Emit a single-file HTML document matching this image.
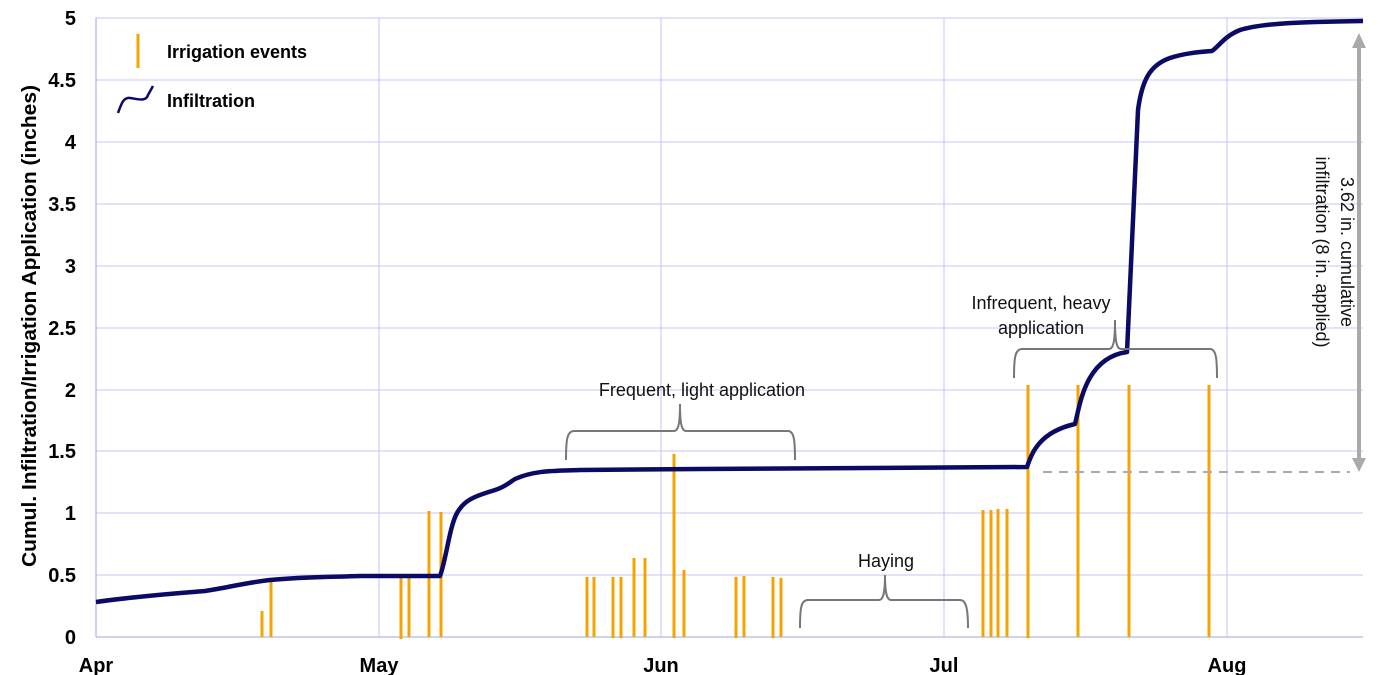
<!DOCTYPE html>
<html><head><meta charset="utf-8"><style>body{margin:0;background:#fff}svg{display:block}</style></head>
<body>
<svg width="1390" height="675" viewBox="0 0 1390 675" xmlns="http://www.w3.org/2000/svg" font-family="Liberation Sans, sans-serif">
<g stroke="#c4c4f4" stroke-width="1">
<line x1="96" y1="18" x2="1363" y2="18"/><line x1="96" y1="80" x2="1363" y2="80"/><line x1="96" y1="142" x2="1363" y2="142"/><line x1="96" y1="204" x2="1363" y2="204"/><line x1="96" y1="266" x2="1363" y2="266"/><line x1="96" y1="328" x2="1363" y2="328"/><line x1="96" y1="390" x2="1363" y2="390"/><line x1="96" y1="451" x2="1363" y2="451"/><line x1="96" y1="513" x2="1363" y2="513"/><line x1="96" y1="575" x2="1363" y2="575"/>
<line x1="379" y1="18" x2="379" y2="637"/><line x1="661" y1="18" x2="661" y2="637"/><line x1="944" y1="18" x2="944" y2="637"/><line x1="1227" y1="18" x2="1227" y2="637"/>
</g>
<line x1="96" y1="18" x2="96" y2="637" stroke="#a0a0ee"/><line x1="96" y1="637" x2="1363" y2="637" stroke="#a0a0ee"/>
<g font-weight="bold" font-size="20" text-anchor="end" fill="#000">
<text x="76" y="25">5</text><text x="76" y="87">4.5</text><text x="76" y="149">4</text><text x="76" y="211">3.5</text><text x="76" y="273">3</text><text x="76" y="335">2.5</text><text x="76" y="397">2</text><text x="76" y="458">1.5</text><text x="76" y="520">1</text><text x="76" y="582">0.5</text><text x="76" y="644">0</text>
</g>
<g font-weight="bold" font-size="20" text-anchor="middle">
<text x="96" y="672">Apr</text><text x="379" y="672">May</text><text x="661" y="672">Jun</text><text x="944" y="672">Jul</text><text x="1227" y="672">Aug</text>
</g>
<text transform="translate(36,326) rotate(-90)" text-anchor="middle" font-weight="bold" font-size="20" textLength="482" lengthAdjust="spacingAndGlyphs">Cumul. Infiltration/Irrigation Application (inches)</text>
<g stroke="#f5a300" stroke-width="3">
<line x1="262" y1="611" x2="262" y2="637"/><line x1="271" y1="578" x2="271" y2="637"/>
<line x1="401" y1="577" x2="401" y2="639"/><line x1="409" y1="575" x2="409" y2="637"/><line x1="429" y1="511" x2="429" y2="637"/><line x1="441" y1="512" x2="441" y2="637"/>
<line x1="587" y1="577" x2="587" y2="637"/><line x1="594" y1="577" x2="594" y2="637"/><line x1="613" y1="577" x2="613" y2="638"/><line x1="621" y1="577" x2="621" y2="638"/><line x1="634" y1="558" x2="634" y2="637"/><line x1="645" y1="558" x2="645" y2="637"/><line x1="674" y1="454" x2="674" y2="638"/><line x1="684" y1="570" x2="684" y2="637"/><line x1="736" y1="577" x2="736" y2="638"/><line x1="744" y1="576" x2="744" y2="637"/><line x1="773" y1="577" x2="773" y2="638"/><line x1="781" y1="578" x2="781" y2="637"/>
<line x1="983" y1="510" x2="983" y2="637"/><line x1="991" y1="510" x2="991" y2="637"/><line x1="998" y1="509" x2="998" y2="637"/><line x1="1007" y1="509" x2="1007" y2="637"/><line x1="1028" y1="385" x2="1028" y2="638"/><line x1="1078" y1="385" x2="1078" y2="637"/><line x1="1129" y1="385" x2="1129" y2="637"/><line x1="1209" y1="385" x2="1209" y2="637"/>
<line x1="138" y1="34" x2="138" y2="68"/>
</g>
<path d="M96,602 C130,597 170,594 205,591 C225,588 250,582 270,580 C300,577 330,577 360,576 L440,576 C446,560 449,530 456,515 C464,498 480,495 495,490 C505,487 510,482 515,479 C535,470 555,471 580,470 L700,469 L1027,467 C1032,452 1040,432 1075,424 C1080,405 1085,358 1127,352 L1138,110 C1142,80 1150,65 1170,58 C1185,53 1200,52 1212,51 C1220,45 1225,36 1240,30 C1260,24 1290,22 1363,21" fill="none" stroke="#0b0b66" stroke-width="4.5" stroke-linejoin="round"/>
<path d="M118,113 C121,105 123,97 130,98 C138,99 146,102 148,95 L153,86" fill="none" stroke="#0b0b66" stroke-width="2.5"/>
<g font-weight="bold" font-size="18"><text x="167" y="58">Irrigation events</text><text x="167" y="107">Infiltration</text></g>
<line x1="1043" y1="472" x2="1350" y2="472" stroke="#aaa" stroke-width="2" stroke-dasharray="9,7"/>
<line x1="1359" y1="45" x2="1359" y2="462" stroke="#aaa" stroke-width="4"/>
<polygon points="1359,33 1352,48 1366,48" fill="#aaa"/><polygon points="1359,472 1352,458 1366,458" fill="#aaa"/>
<g fill="none" stroke="#777" stroke-width="2">
<path d="M566,460 C566,440 567,431 574,431 L674,431 C678,431 680,425 680,404 C680,425 682,431 686,431 L788,431 C794,431 795,440 795,460"/>
<path d="M800,628 C800,608 801,600 808,600 L879,600 C883,600 885,594 885,575 C885,594 887,600 891,600 L960,600 C966,600 968,608 968,628"/>
<path d="M1014,378 C1014,358 1015,349 1022,349 L1109,349 C1113,349 1115,343 1115,320 C1115,343 1117,349 1121,349 L1210,349 C1216,349 1217,358 1217,378"/>
</g>
<g font-size="18" text-anchor="middle" fill="#111">
<text x="702" y="396">Frequent, light application</text>
<text x="886" y="567">Haying</text>
<text x="1041" y="309">Infrequent, heavy</text><text x="1041" y="334">application</text>
</g>
<g font-size="18" text-anchor="middle" fill="#111">
<text transform="translate(1341,252) rotate(90)">3.62 in. cumulative</text>
<text transform="translate(1316,252) rotate(90)">infiltration (8 in. applied)</text>
</g>
</svg>
</body></html>
